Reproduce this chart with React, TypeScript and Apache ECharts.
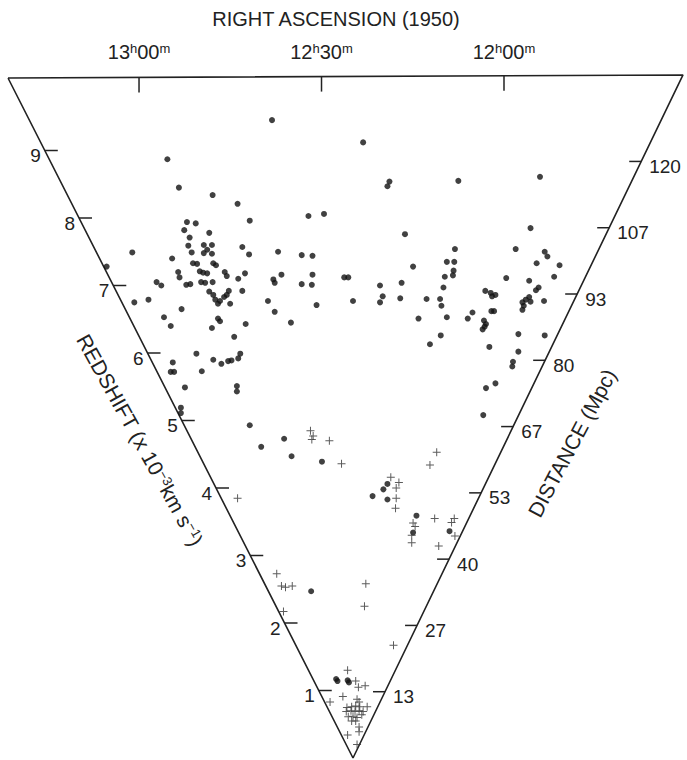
import React, { useEffect, useRef } from "react";
import * as echarts from "echarts";

// ---- Tick values ----
const redshiftTicks = [1, 2, 3, 4, 5, 6, 7, 8, 9]; // x 10^3 km/s (left edge)
const distanceTicks = [13, 27, 40, 53, 67, 80, 93, 107, 120]; // Mpc (right edge)
const raTicks = [13.0, 12.5, 12.0]; // hours
const raTickLabels = ["13{s|h}00{s|m}", "12{s|h}30{s|m}", "12{s|h}00{s|m}"];

// ---- Galaxies: [transverse offset, depth] in units of 10^3 km/s in the wedge plane ----
const dotsLeftWall: [number, number][] = [
  [-2.75, 8.87], [-2.58, 8.45], [-2.08, 8.34], [-1.71, 8.21], [-1.53, 7.96], [-2.46, 7.94], [-2.33, 7.92],
  [-2.13, 7.78], [-2.5, 7.82], [-2.42, 7.71], [-2.44, 7.59], [-2.21, 7.6], [-2.09, 7.6], [-2.16, 7.53],
  [-2.21, 7.48], [-2.09, 7.47], [-2.39, 7.49], [-3.27, 7.49], [-2.68, 7.4], [-3.65, 7.28], [-2.37, 7.33],
  [-2.31, 7.32], [-2.07, 7.33], [-2.03, 7.3], [-1.9, 7.2], [-1.87, 7.14], [-2.27, 7.21], [-2.22, 7.19],
  [-2.16, 7.18], [-2.59, 7.2], [-2.57, 7.12], [-2.41, 7.02], [-2.47, 7.01], [-2.25, 7.05], [-2.19, 7.04],
  [-2.08, 7.05], [-2.91, 7.05], [-2.84, 7.0], [-1.7, 7.1], [-2.13, 6.91], [-2.07, 6.86], [-2.04, 6.79],
  [-2.0, 6.73], [-1.97, 6.77], [-1.91, 6.83], [-1.84, 6.92], [-1.87, 6.86], [-1.82, 6.73], [-3.24, 6.75],
  [-3.03, 6.79], [-2.54, 6.65], [-2.8, 6.53], [-2.0, 6.51], [-1.97, 6.47], [-2.7, 6.4], [-2.09, 6.37],
  [-1.76, 6.24], [-2.32, 5.99], [-1.64, 7.57], [-1.54, 7.46], [-1.6, 7.18], [-1.64, 6.92], [-1.59, 6.43],
  [-2.07, 5.9], [-1.95, 5.84], [-1.85, 5.88], [-1.8, 5.89], [-1.7, 5.92], [-1.67, 5.99], [-2.67, 5.86],
  [-2.7, 5.72], [-2.65, 5.72], [-2.24, 5.73], [-2.49, 5.49], [-1.72, 5.51], [-1.72, 5.43], [-2.55, 5.19],
  [-2.55, 5.11],
];
const dotsMiddle: [number, number][] = [
  [-1.11, 7.5], [-0.76, 7.45], [-0.6, 7.44], [-1.18, 7.09], [-1.16, 7.04], [-1.06, 7.16], [-0.6, 7.16],
  [-0.76, 7.02], [-0.61, 7.01], [-0.13, 7.12], [-0.07, 7.12], [-1.26, 6.77], [-1.16, 6.61], [-0.54, 6.71],
  [-0.92, 6.45], [-0.66, 8.03], [-0.43, 8.06], [-1.2, 9.45],
];
const dotsRightWall: [number, number][] = [
  [0.15, 9.12], [0.54, 8.54], [0.51, 8.47], [1.56, 8.55], [2.77, 8.61], [2.63, 7.85], [0.77, 7.76],
  [2.41, 7.54], [1.51, 7.54], [1.39, 7.35], [1.5, 7.35], [2.84, 7.5], [2.88, 7.43], [2.72, 7.33],
  [3.06, 7.3], [0.89, 7.28], [1.49, 7.22], [1.48, 7.15], [1.36, 7.13], [2.27, 7.11], [2.98, 7.13],
  [2.61, 7.07], [2.75, 6.97], [2.71, 6.93], [0.4, 7.0], [0.72, 7.04], [1.34, 6.97], [1.96, 6.92],
  [2.04, 6.89], [2.11, 6.86], [2.06, 6.84], [0.0, 6.77], [0.44, 6.84], [0.4, 6.75], [0.7, 6.81],
  [1.09, 6.8], [1.29, 6.8], [1.31, 6.7], [2.61, 6.83], [2.56, 6.79], [2.51, 6.75], [2.63, 6.76],
  [2.53, 6.7], [2.51, 6.64], [2.83, 6.77], [2.05, 6.62], [2.09, 6.62], [1.77, 6.6], [1.7, 6.51],
  [1.39, 6.53], [0.97, 6.51], [1.94, 6.48], [1.97, 6.43], [1.95, 6.39], [1.92, 6.35], [1.3, 6.26],
  [2.45, 6.28], [2.84, 6.26], [1.14, 6.13], [2.02, 6.09], [2.45, 6.02], [2.37, 5.87], [2.36, 5.8],
  [1.97, 5.48], [2.11, 5.55], [1.93, 5.08],
];
const dotsNear: [number, number][] = [
  [-1.53, 4.93], [-1.02, 4.73], [-1.36, 4.61], [-0.91, 4.47], [-0.46, 4.39], [0.29, 3.88], [0.45, 3.98],
  [0.51, 4.06], [0.51, 3.83], [0.94, 3.59], [0.89, 3.34], [1.43, 3.36], [-0.62, 2.47], [-0.25, 1.17],
  [-0.23, 1.14], [-0.08, 1.15], [-0.06, 1.12],
];
const crossesMid: [number, number][] = [
  [-0.63, 4.85], [-0.59, 4.77], [-0.61, 4.72], [-0.35, 4.7], [-0.17, 4.36], [-1.71, 3.85], [0.56, 4.16],
  [0.68, 4.08], [0.64, 4.0], [0.64, 3.85], [0.63, 3.7], [1.24, 4.53], [1.14, 4.34], [0.89, 3.48],
  [0.92, 3.43], [0.87, 3.3], [0.87, 3.19], [1.21, 3.55], [1.27, 3.14], [1.5, 3.55], [1.46, 3.49],
  [1.51, 3.29], [-1.13, 2.73], [-1.06, 2.55], [-1.0, 2.53], [-0.9, 2.55], [-1.03, 2.17], [0.19, 2.58],
  [0.17, 2.25], [0.6, 1.67],
];
const crossesVirgo: [number, number][] = [
  [-0.08, 1.3], [0.04, 1.14], [0.08, 1.05], [0.18, 1.07], [-0.34, 0.83], [-0.15, 0.91], [0.06, 0.87],
  [0.09, 0.83], [-0.09, 0.75], [-0.02, 0.76], [0.04, 0.77], [0.1, 0.76], [0.21, 0.76], [-0.1, 0.69],
  [-0.03, 0.7], [0.03, 0.69], [0.09, 0.7], [0.15, 0.69], [-0.07, 0.61], [0.0, 0.62], [0.06, 0.6],
  [0.13, 0.64], [-0.02, 0.55], [0.04, 0.55], [0.09, 0.46], [-0.08, 0.34], [0.09, 0.39], [0.06, 0.2],
];

// ---- Layout constants ----
const W = 687;
const H = 760;
const S = 67.5; // px per 10^3 km/s
const AX = 353; // apex pixel x
const AY = 758; // apex pixel y
const FRAME_L: [number, number] = [-5.111, 10.074];
const FRAME_R: [number, number] = [4.889, 10.119];
const RIGHT_SCALE = 0.982;
const RA_X13 = -3.17;
const RA_PER_HOUR = 5.407;
const INK = "#222";
const FONT = "'Liberation Sans', Arial, Helvetica, sans-serif";
const CROSS = "path://M3.5,0H4.5V3.5H8V4.5H4.5V8H3.5V4.5H0V3.5H3.5Z";

function buildGraphic(chart: echarts.ECharts) {
  const toPx = (p: number[]) => chart.convertToPixel({ gridIndex: 0 }, p) as number[];
  const els: any[] = [];
  const sup = { s: { fontSize: 13, verticalAlign: "top", fontFamily: FONT, fill: INK } };

  redshiftTicks.forEach((cz) => {
    const y = cz;
    const x = (FRAME_L[0] * y) / FRAME_L[1];
    const [px, py] = toPx([x, y]);
    els.push({ type: "line", silent: true, shape: { x1: px, y1: py, x2: px + 13, y2: py }, style: { stroke: INK, lineWidth: 1.5 } });
    els.push({
      type: "text", silent: true, x: px - 4, y: py + 5,
      style: { text: String(cz), align: "right", verticalAlign: "middle", fontSize: 19, fontFamily: FONT, fill: INK },
    });
  });

  distanceTicks.forEach((d, i) => {
    const y = (i + 1) * RIGHT_SCALE;
    const x = (FRAME_R[0] * y) / FRAME_R[1];
    const [px, py] = toPx([x, y]);
    els.push({ type: "line", silent: true, shape: { x1: px - 12, y1: py, x2: px, y2: py }, style: { stroke: INK, lineWidth: 1.5 } });
    els.push({
      type: "text", silent: true, x: px + 8, y: py + 5,
      style: { text: String(d), align: "left", verticalAlign: "middle", fontSize: 19, fontFamily: FONT, fill: INK },
    });
  });

  raTicks.forEach((ra, i) => {
    const x = RA_X13 + (13 - ra) * RA_PER_HOUR;
    const y = FRAME_L[1] + ((x - FRAME_L[0]) / (FRAME_R[0] - FRAME_L[0])) * (FRAME_R[1] - FRAME_L[1]);
    const [px, py] = toPx([x, y]);
    els.push({ type: "line", silent: true, shape: { x1: px, y1: py, x2: px, y2: py + 15 }, style: { stroke: INK, lineWidth: 1.5 } });
    els.push({
      type: "text", silent: true, x: px, y: 52,
      style: { text: raTickLabels[i], rich: sup, align: "center", verticalAlign: "middle", fontSize: 20, fontFamily: FONT, fill: INK },
    });
  });

  els.push({
    type: "text", silent: true, x: 336, y: 19,
    style: { text: "RIGHT ASCENSION (1950)", align: "center", verticalAlign: "middle", fontSize: 20, fontFamily: FONT, fill: INK },
  });
  els.push({
    type: "text", silent: true, x: 140, y: 440, rotation: (-61 * Math.PI) / 180,
    style: { text: "REDSHIFT (x 10{s|\u22123}km s{s|\u22121})", rich: sup, align: "center", verticalAlign: "middle", fontSize: 21, fontFamily: FONT, fill: INK },
  });
  els.push({
    type: "text", silent: true, x: 572, y: 443, rotation: (62 * Math.PI) / 180,
    style: { text: "DISTANCE (Mpc)", align: "center", verticalAlign: "middle", fontSize: 21, fontFamily: FONT, fill: INK },
  });
  return els;
}

export default function App() {
  const ref = useRef<HTMLDivElement>(null);
  useEffect(() => {
    if (!ref.current) return;
    const chart = echarts.init(ref.current, null, { renderer: "svg" });
    const dots = [...dotsLeftWall, ...dotsMiddle, ...dotsRightWall, ...dotsNear];
    const crosses = [...crossesMid, ...crossesVirgo];
    chart.setOption({
      animation: false,
      backgroundColor: "#ffffff",
      grid: { left: 0, right: 0, top: 0, bottom: 0 },
      xAxis: { type: "value", min: -AX / S, max: (W - AX) / S, show: false },
      yAxis: { type: "value", min: -(H - AY) / S, max: AY / S, show: false },
      series: [
        {
          type: "line", silent: true, symbol: "none", z: 1,
          data: [FRAME_L, [0, 0], FRAME_R, FRAME_L],
          lineStyle: { color: INK, width: 1.6 },
        },
        {
          type: "scatter", silent: true, z: 3, symbol: "circle", symbolSize: 6,
          data: dots, itemStyle: { color: "#111" },
        },
        {
          type: "scatter", silent: true, z: 3, symbol: CROSS, symbolSize: 8,
          data: crosses, itemStyle: { color: "#333" },
        },
      ],
    });
    chart.setOption({ graphic: buildGraphic(chart) });
    return () => chart.dispose();
  }, []);
  return (
    <div
      ref={ref}
      style={{ position: "absolute", left: 0, top: 0, width: W, height: H, background: "#fff" }}
    />
  );
}
